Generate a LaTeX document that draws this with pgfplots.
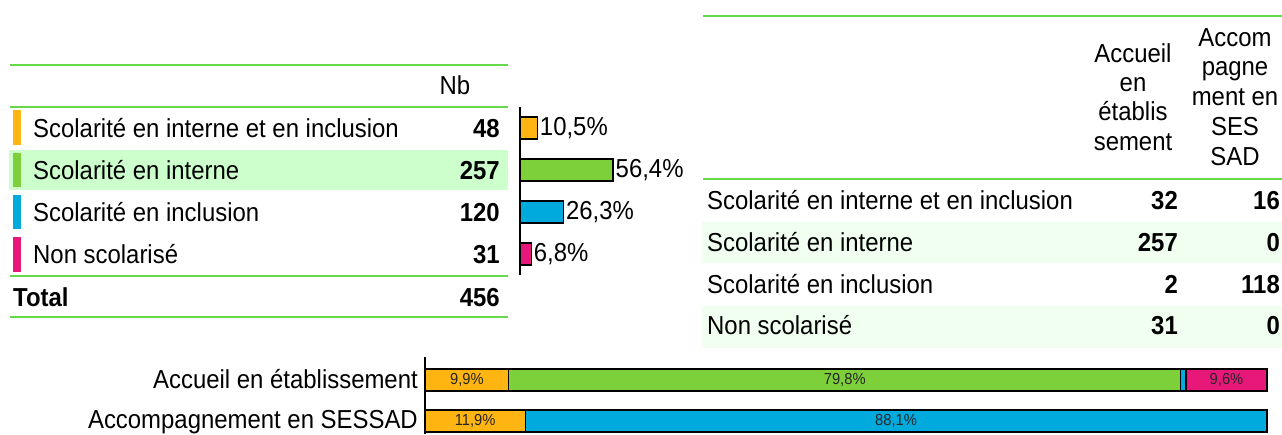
\documentclass[border=0pt]{standalone}
\usepackage{fontspec}
\setmainfont[FakeStretch=0.92]{Liberation Sans}
\usepackage{pgfplots}
\pgfplotsset{compat=1.18}
\definecolor{cOr}{HTML}{FFB511}
\definecolor{cGr}{HTML}{7ED03A}
\definecolor{cBl}{HTML}{00AADC}
\definecolor{cPk}{HTML}{E8177A}
\definecolor{cLine}{HTML}{66D94A}
\definecolor{cHi}{HTML}{CCFFCC}
\definecolor{cRow}{HTML}{F0FFF0}
\newcommand{\fbig}{\fontsize{26}{30}\selectfont}
\newcommand{\fsml}{\fontsize{16}{18}\selectfont}
\begin{document}
\fbig
\begin{tikzpicture}[font=\fbig]
\path[use as bounding box] (0pt,0pt) rectangle (1282pt,-434pt);
% ---------- left table ----------
\fill[cHi] (9pt,-150pt) rectangle (508pt,-190pt);
\draw[cLine, line width=2pt] (10pt,-65pt) -- (508pt,-65pt);
\draw[cLine, line width=2pt] (10pt,-107pt) -- (508pt,-107pt);
\draw[cLine, line width=2pt] (10pt,-276pt) -- (508pt,-276pt);
\draw[cLine, line width=2pt] (10pt,-317pt) -- (508pt,-317pt);
\fill[cOr] (13pt,-110pt) rectangle (21pt,-145pt);
\fill[cGr] (13pt,-153pt) rectangle (21pt,-187pt);
\fill[cBl] (13pt,-195pt) rectangle (21pt,-229pt);
\fill[cPk] (13pt,-237pt) rectangle (21pt,-272pt);
\node[anchor=base] at (455pt,-94pt) {Nb};
\node[anchor=base west, inner sep=0pt] at (33pt,-137pt) {Scolarité en interne et en inclusion};
\node[anchor=base west, inner sep=0pt] at (33pt,-179pt) {Scolarité en interne};
\node[anchor=base west, inner sep=0pt] at (33pt,-221pt) {Scolarité en inclusion};
\node[anchor=base west, inner sep=0pt] at (33pt,-263pt) {Non scolarisé};
\node[anchor=base west, inner sep=0pt, font=\fbig\bfseries] at (13pt,-306pt) {Total};
\node[anchor=base east, inner sep=0pt, font=\fbig\bfseries] at (500pt,-137pt) {48};
\node[anchor=base east, inner sep=0pt, font=\fbig\bfseries] at (500pt,-179pt) {257};
\node[anchor=base east, inner sep=0pt, font=\fbig\bfseries] at (500pt,-221pt) {120};
\node[anchor=base east, inner sep=0pt, font=\fbig\bfseries] at (500pt,-263pt) {31};
\node[anchor=base east, inner sep=0pt, font=\fbig\bfseries] at (500pt,-306pt) {456};
% ---------- left mini bars ----------
\begin{axis}[at={(520pt,-107pt)}, anchor=north west, scale only axis,
  width=165pt, height=168pt, xmin=0, xmax=100, ymin=0.5, ymax=4.5, y dir=reverse,
  axis x line=none, axis y line=left, axis line style={-, line width=1.5pt, black},
  xtick=\empty, ytick=\empty, clip=false,
  xbar, bar width=22pt,
  nodes near coords, point meta=explicit symbolic,
  every node near coord/.append style={font=\fbig, anchor=west, inner sep=2pt}]
\addplot[fill=cOr, draw=black, line width=1.3pt, bar shift=0pt] coordinates {(10.5,1) [10,5\%]};
\addplot[fill=cGr, draw=black, line width=1.3pt, bar shift=0pt] coordinates {(56.4,2) [56,4\%]};
\addplot[fill=cBl, draw=black, line width=1.3pt, bar shift=0pt] coordinates {(26.3,3) [26,3\%]};
\addplot[fill=cPk, draw=black, line width=1.3pt, bar shift=0pt] coordinates {(6.8,4) [6,8\%]};
\end{axis}
% ---------- right table ----------
\fill[cRow] (702pt,-222pt) rectangle (1282pt,-263pt);
\fill[cRow] (702pt,-306pt) rectangle (1282pt,-348pt);
\draw[cLine, line width=2pt] (703pt,-16pt) -- (1282pt,-16pt);
\draw[cLine, line width=2pt] (703pt,-179pt) -- (1282pt,-179pt);
\node[anchor=base, inner sep=0pt] at (1133pt,-62pt) {Accueil};
\node[anchor=base, inner sep=0pt] at (1133pt,-91pt) {en};
\node[anchor=base, inner sep=0pt] at (1133pt,-120pt) {établis};
\node[anchor=base, inner sep=0pt] at (1133pt,-150pt) {sement};
\node[anchor=base, inner sep=0pt] at (1235pt,-46pt) {Accom};
\node[anchor=base, inner sep=0pt] at (1235pt,-75pt) {pagne};
\node[anchor=base, inner sep=0pt] at (1235pt,-105pt) {ment en};
\node[anchor=base, inner sep=0pt] at (1235pt,-135pt) {SES};
\node[anchor=base, inner sep=0pt] at (1235pt,-165pt) {SAD};
\node[anchor=base west, inner sep=0pt] at (707pt,-209pt) {Scolarité en interne et en inclusion};
\node[anchor=base west, inner sep=0pt] at (707pt,-251pt) {Scolarité en interne};
\node[anchor=base west, inner sep=0pt] at (707pt,-293pt) {Scolarité en inclusion};
\node[anchor=base west, inner sep=0pt] at (707pt,-334pt) {Non scolarisé};
\node[anchor=base east, inner sep=0pt, font=\fbig\bfseries] at (1178pt,-209pt) {32};
\node[anchor=base east, inner sep=0pt, font=\fbig\bfseries] at (1178pt,-251pt) {257};
\node[anchor=base east, inner sep=0pt, font=\fbig\bfseries] at (1178pt,-293pt) {2};
\node[anchor=base east, inner sep=0pt, font=\fbig\bfseries] at (1178pt,-334pt) {31};
\node[anchor=base east, inner sep=0pt, font=\fbig\bfseries] at (1280pt,-209pt) {16};
\node[anchor=base east, inner sep=0pt, font=\fbig\bfseries] at (1280pt,-251pt) {0};
\node[anchor=base east, inner sep=0pt, font=\fbig\bfseries] at (1280pt,-293pt) {118};
\node[anchor=base east, inner sep=0pt, font=\fbig\bfseries] at (1280pt,-334pt) {0};
% ---------- bottom stacked bars ----------
\node[anchor=base east, inner sep=0pt] at (418pt,-388pt) {Accueil en établissement};
\node[anchor=base east, inner sep=0pt] at (418pt,-428pt) {Accompagnement en SESSAD};
\begin{axis}[at={(425pt,-357pt)}, anchor=north west, scale only axis,
  width=842pt, height=77pt, xmin=0, xmax=100, ymin=0.44, ymax=2.32, y dir=reverse,
  axis x line=none, axis y line=left, axis line style={-, line width=1.5pt, black},
  xtick=\empty, ytick=\empty, clip=false,
  xbar stacked, bar width=22pt]
\addplot[fill=cOr, draw=black, line width=1.3pt] coordinates {(9.94,1) (11.9,2)};
\addplot[fill=cGr, draw=black, line width=1.3pt] coordinates {(79.81,1) (0,2)};
\addplot[fill=cBl, draw=black, line width=1.3pt] coordinates {(0.62,1) (88.1,2)};
\addplot[fill=cPk, draw=black, line width=1.3pt] coordinates {(9.63,1) (0,2)};
\end{axis}
\begin{axis}[at={(425pt,-357pt)}, anchor=north west, scale only axis,
  width=842pt, height=77pt, xmin=0, xmax=100, ymin=0.44, ymax=2.32, y dir=reverse,
  hide axis, clip=false]
\addplot[draw=none, nodes near coords, point meta=explicit symbolic,
  every node near coord/.style={font=\fsml, anchor=center, text=black!85}]
  coordinates {(4.97,1) [9,9\%] (49.85,1) [79,8\%] (95.19,1) [9,6\%] (5.95,2) [11,9\%] (55.95,2) [88,1\%]};
\end{axis}
\end{tikzpicture}
\end{document}
